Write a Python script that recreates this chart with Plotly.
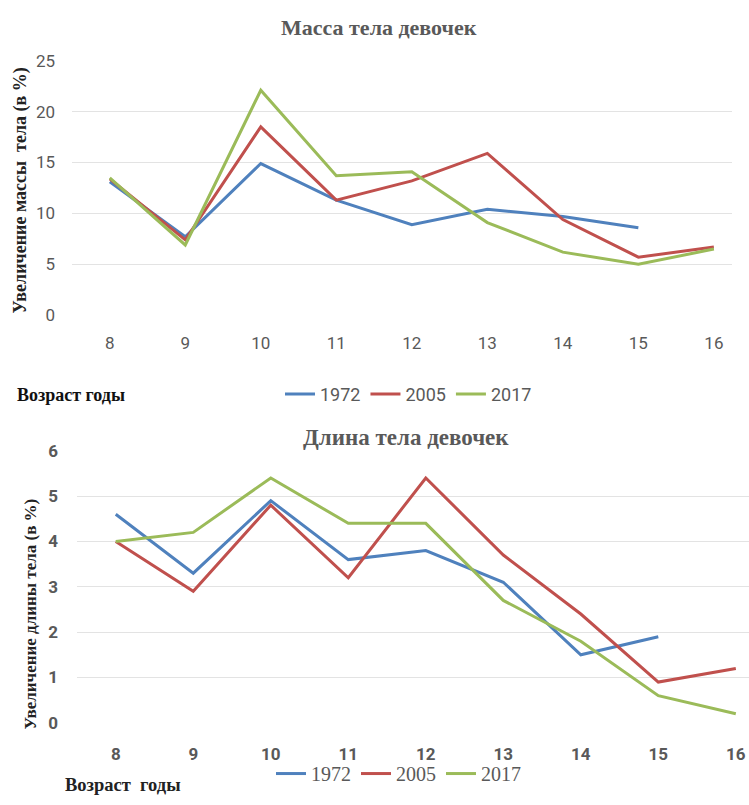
import plotly.graph_objects as go

ages = [8, 9, 10, 11, 12, 13, 14, 15, 16]
years = ["1972", "2005", "2017"]
colors = ["#4F81BD", "#C0504D", "#9BBB59"]

mass_1972 = [13.1, 7.7, 14.9, 11.3, 8.9, 10.4, 9.7, 8.6, None]
mass_2005 = [13.4, 7.4, 18.5, 11.3, 13.2, 15.9, 9.4, 5.7, 6.7]
mass_2017 = [13.5, 6.9, 22.1, 13.7, 14.1, 9.1, 6.2, 5.0, 6.5]

len_1972 = [4.6, 3.3, 4.9, 3.6, 3.8, 3.1, 1.5, 1.9, None]
len_2005 = [4.0, 2.9, 4.8, 3.2, 5.4, 3.7, 2.4, 0.9, 1.2]
len_2017 = [4.0, 4.2, 5.4, 4.4, 4.4, 2.7, 1.8, 0.6, 0.2]

W, H = 749, 805
fig = go.Figure()

for name, vals, c in zip(years, [mass_1972, mass_2005, mass_2017], colors):
    fig.add_trace(go.Scatter(x=ages, y=vals, name=name, mode="lines",
                             line=dict(color=c, width=3), xaxis="x", yaxis="y",
                             legend="legend"))
for name, vals, c in zip(years, [len_1972, len_2005, len_2017], colors):
    fig.add_trace(go.Scatter(x=ages, y=vals, name=name, mode="lines",
                             line=dict(color=c, width=3), xaxis="x2", yaxis="y2",
                             legend="legend2"))

grid = "#E3E3E3"
sans = "Roboto, sans-serif"
tick_font1 = dict(family=sans, size=17, color="#595959")
tick_font2 = dict(family=sans, size=17, color="#595959", weight="bold")

fig.update_layout(
    width=W, height=H,
    margin=dict(l=0, r=0, t=0, b=0),
    paper_bgcolor="white", plot_bgcolor="white",
    xaxis=dict(domain=[72 / W, 732 / W], range=[7.5, 16.24], tickvals=ages,
               showgrid=False, zeroline=False, showline=False, ticks="",
               tickfont=tick_font1, ticklabelstandoff=16, anchor="y"),
    yaxis=dict(domain=[1 - 313 / H, 1 - 52 / H], range=[0, 25], dtick=5,
               gridcolor=grid, zeroline=False, showline=False, ticks="",
               tickfont=tick_font1, ticklabelstandoff=16, anchor="x"),
    xaxis2=dict(domain=[77 / W, 1.0], range=[7.5, 16.17], tickvals=ages,
                showgrid=False, zeroline=False, showline=False, ticks="",
                tickfont=tick_font2, ticklabelstandoff=19, anchor="y2"),
    yaxis2=dict(domain=[1 - 731 / H, 1 - 452 / H], range=[0, 6], dtick=1,
                gridcolor=grid, zeroline=False, showline=False, ticks="",
                tickfont=tick_font2, ticklabelstandoff=18, anchor="x2"),
    legend=dict(orientation="h", x=280 / W, y=1 - 394 / H, xanchor="left", yanchor="middle",
                font=dict(family=sans, size=18, color="#595959"),
                bgcolor="rgba(0,0,0,0)"),
    legend2=dict(orientation="h", x=271 / W, y=1 - 783 / H, xanchor="left", yanchor="middle",
                 font=dict(family="Liberation Serif, serif", size=20, color="#595959"),
                 bgcolor="rgba(0,0,0,0)"),
    showlegend=True,
)

serif_b = "Liberation Serif, Times New Roman, serif"
anns = [
    dict(text="<b>Масса тела девочек</b>", x=379 / W, y=1 - 18 / H, font=dict(family=serif_b, size=22, color="#595959")),
    dict(text="<b>Длина тела девочек</b>", x=406 / W, y=1 - 438 / H, font=dict(family=serif_b, size=23, color="#595959")),
    dict(text="<b>Увеличение массы  тела (в %)</b>", x=20 / W, y=1 - 185 / H, textangle=-90,
         font=dict(family=serif_b, size=18, color="#222222")),
    dict(text="<b>Увеличение длины тела (в %)</b>", x=31 / W, y=1 - 620 / H, textangle=-90,
         font=dict(family=serif_b, size=17, color="#222222")),
    dict(text="<b>Возраст годы</b>", x=15 / W, y=1 - 395 / H, xanchor="left",
         font=dict(family=serif_b, size=18, color="#111111")),
    dict(text="<b>Возраст  годы</b>", x=63 / W, y=1 - 795 / H, xanchor="left",
         font=dict(family=serif_b, size=18.5, color="#222222")),
]
for a in anns:
    a.setdefault("xanchor", "center")
    a.update(xref="paper", yref="paper", showarrow=False, yanchor="middle")
fig.update_layout(annotations=anns)

fig.write_html("out.html")
